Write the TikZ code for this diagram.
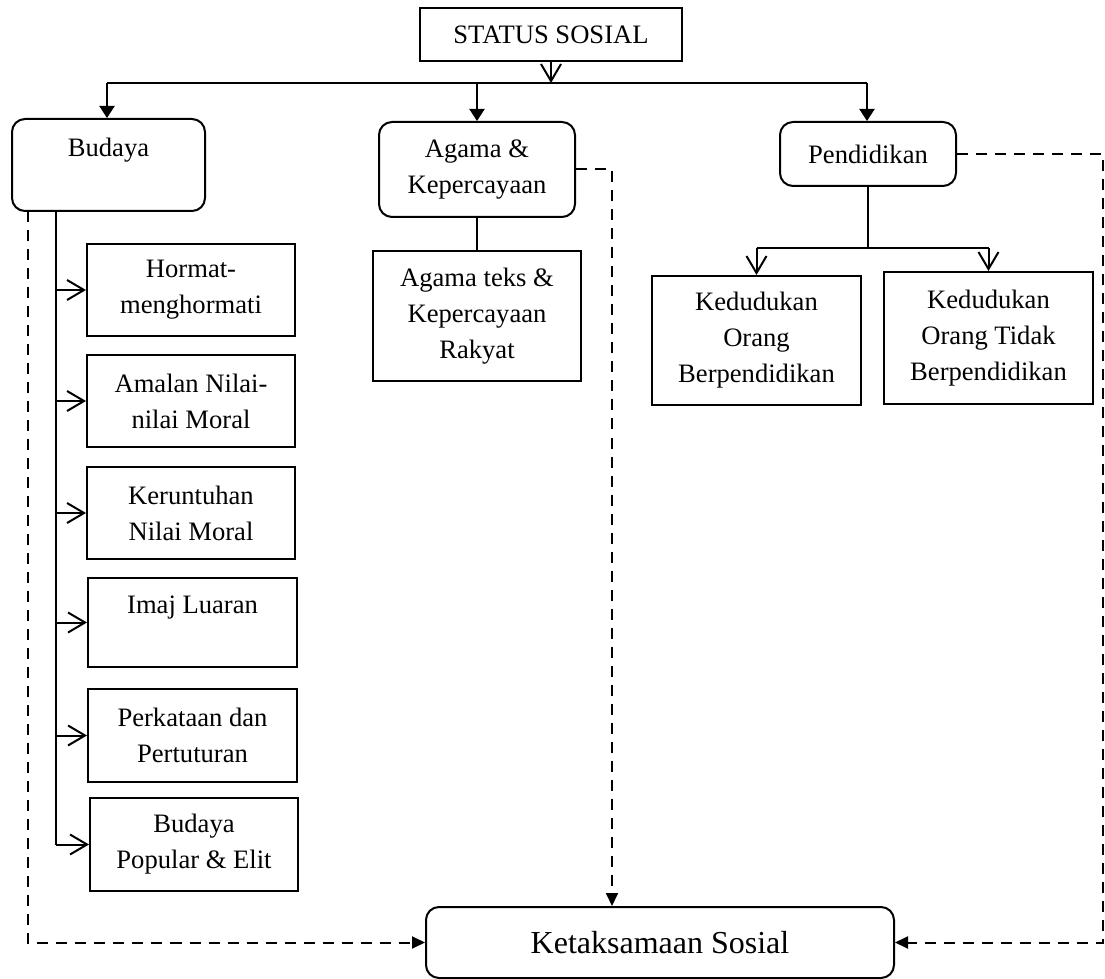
\documentclass[tikz,border=0pt]{standalone}
\usepackage{fontspec}
\setmainfont{Liberation Serif}
\usetikzlibrary{arrows.meta}

\begin{document}
\begin{tikzpicture}[x=0.5pt, y=-0.5pt, line width=1pt,
  box/.style={draw, align=center, inner sep=0pt, font=\fontsize{13.3}{18}\selectfont},
  rbox/.style={box, rounded corners=6.5pt},
  solid tip/.style={-{Triangle[length=6pt,width=7.5pt]}},
  open tip/.style={-{Straight Barb[length=8.5pt,width=10pt,line width=1pt]}},
  dash tip/.style={dash pattern=on 5.5pt off 4pt, -{Triangle[length=6.5pt,width=6pt]}}]
  \useasboundingbox (0,0) rectangle (1105,979);

  \node[box, minimum width=131pt, minimum height=26.5pt] (status) at (551,34.5) {STATUS SOSIAL};
  \node[rbox, minimum width=96.5pt, minimum height=46pt] (budaya) at (108.5,165) {Budaya\\\mbox{}};
  \node[rbox, minimum width=98pt, minimum height=47.5pt] (agama) at (477,169.5) {Agama \&\\Kepercayaan};
  \node[rbox, minimum width=88pt, minimum height=32pt] (pend) at (868,154) {Pendidikan};

  \node[box, minimum width=104pt, minimum height=65pt] (teks) at (477,316) {Agama teks \&\\Kepercayaan\\Rakyat};
  \node[box, minimum width=104.5pt, minimum height=64.5pt] (k1) at (756.5,340.5) {Kedudukan\\Orang\\Berpendidikan};
  \node[box, minimum width=104.5pt, minimum height=66pt] (k2) at (988.5,338) {Kedudukan\\Orang Tidak\\Berpendidikan};

  \node[box, minimum width=104pt, minimum height=46pt] (hormat) at (191,290) {Hormat-\\menghormati};
  \node[box, minimum width=104pt, minimum height=46pt] (amalan) at (191,401) {Amalan Nilai-\\nilai Moral};
  \node[box, minimum width=104pt, minimum height=46pt] (runtuh) at (191,513) {Keruntuhan\\Nilai Moral};
  \node[box, minimum width=104.5pt, minimum height=44.5pt] (imaj) at (192.5,622.5) {Imaj Luaran\\\mbox{}};
  \node[box, minimum width=104.5pt, minimum height=46.5pt] (kata) at (192.5,735.5) {Perkataan dan\\Pertuturan};
  \node[box, minimum width=104pt, minimum height=46.5pt] (popular) at (194,844.5) {Budaya\\Popular \& Elit};

  \node[rbox, minimum width=234pt, minimum height=35.5pt, font=\fontsize{16}{19}\selectfont] (keta) at (660,942.5) {Ketaksamaan Sosial};

  \coordinate (busL) at (107,83);
  \coordinate (busR) at (867,83);
  \coordinate (spine) at (56,211);
  \coordinate (fork) at (868,248);
  \coordinate (dl) at (28,211);
  \coordinate (da) at (612,173);
  \coordinate (dp) at (1103,154);

  \draw (busL) -- (busR);
  \path[open tip] (status) edge (status |- busL);
  \path[solid tip]
  (busL) edge (busL |- budaya.north)
  (busL -| agama) edge (agama)
  (busR) edge (busR |- pend.north)
  ;

  \draw (agama) -- (teks);
  \draw (pend) -- (fork);
  \draw (fork -| k1) -- (fork -| k2);
  \path[open tip]
  (fork -| k1) edge (k1)
  (fork -| k2) edge (k2)
  ;

  \draw (spine) -- (spine |- popular.west);
  \path[open tip]
  (spine |- hormat.west) edge (hormat)
  (spine |- amalan.west) edge (amalan)
  (spine |- runtuh.west) edge (runtuh)
  (spine |- imaj.west) edge (imaj)
  (spine |- kata.west) edge (kata)
  (spine |- popular.west) edge (popular)
  ;

  \draw[dash tip] (dl) |- (keta.west);
  \draw[dash tip] (agama.east) -| (keta.north -| da);
  \draw[dash tip] (pend.east) -- (dp) |- (keta.east);
\end{tikzpicture}
\end{document}
